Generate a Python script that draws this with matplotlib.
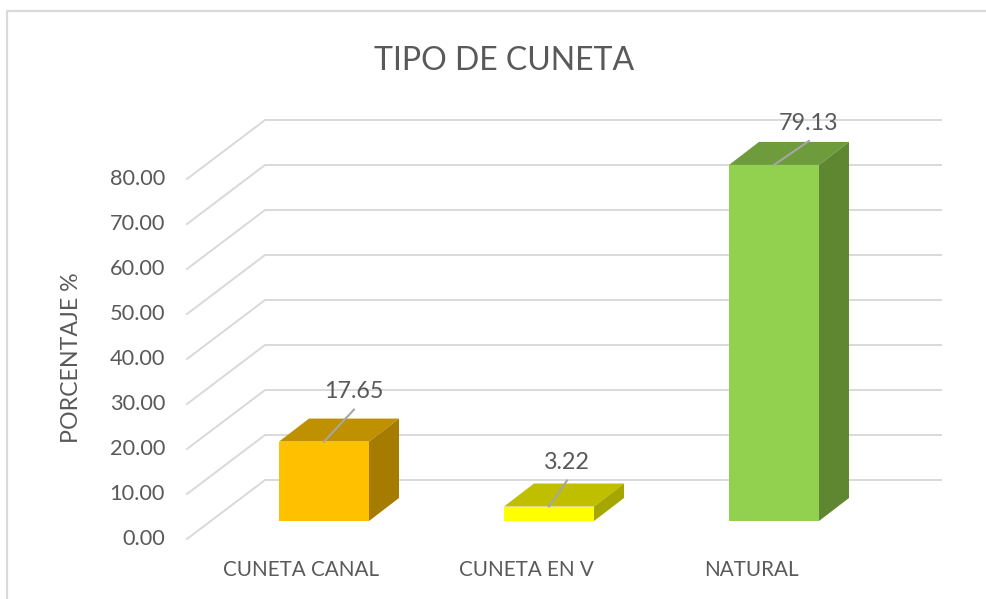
from matplotlib import pyplot as plt
from matplotlib.patches import Polygon

categories = ['CUNETA CANAL', 'CUNETA EN V', 'NATURAL']
values = [17.65, 3.22, 79.13]
grid_values = [0, 10, 20, 30, 40, 50, 60, 70, 80]

front_colors = ['#FFC000', '#FFFF00', '#92D050']
top_colors = ['#BF9000', '#BFBF00', '#6E9C3C']
side_colors = ['#A67C00', '#A6A600', '#5F8732']
text_color = '#595959'
grid_color = '#D9D9D9'

plt.rcParams['font.family'] = ['Lato', 'DejaVu Sans']

fig = plt.figure(figsize=(9.86, 5.99), dpi=100)
ax = fig.add_axes([0, 0, 1, 1])

# 225 px per category, 4.5 px per percent, pixel based so it lines up with the reference
px_x = 225
px_y = 4.5
ax.set_xlim(-324 / px_x, (986 - 324) / px_x)
ax.set_ylim((521 - 599) / px_y, 521 / px_y)
ax.axis('off')

# chart frame
ax.plot([-317 / px_x, -317 / px_x, 2.942], [-17.33, 113.3, 113.3], color='#D9D9D9', lw=1.6, solid_capstyle='butt')

# depth of the bars and of the walls
bar_w = 90 / px_x
bar_dx = 30 / px_x
bar_dy = 23 / px_y
wall_left = -59 / px_x
wall_front = -137 / px_x
wall_right = 617 / px_x
wall_back_y = 41 / px_y
wall_front_y = -18 / px_y

for v in grid_values:
    ax.plot([wall_front, wall_left, wall_right],
            [v + wall_front_y, v + wall_back_y, v + wall_back_y],
            color=grid_color, lw=1.4, solid_joinstyle='miter')
    ax.text(wall_front - 22 / px_x, v + wall_front_y, '%.2f' % v,
            ha='right', va='center', fontsize=15.7, color=text_color)

# leader line end relative to the bar top (px)
leader_dx = [30, 18, 35]
leader_dy = [32, 26, 24]
label_gap = [18, 18, 17]

for i, v in enumerate(values):
    x0 = i - bar_w / 2
    x1 = i + bar_w / 2
    ax.add_patch(Polygon([(x0, 0), (x1, 0), (x1, v), (x0, v)], fc=front_colors[i], ec='none', zorder=3))
    ax.add_patch(Polygon([(x0, v), (x1, v), (x1 + bar_dx, v + bar_dy), (x0 + bar_dx, v + bar_dy)],
                         fc=top_colors[i], ec='none', zorder=3))
    ax.add_patch(Polygon([(x1, 0), (x1 + bar_dx, bar_dy), (x1 + bar_dx, v + bar_dy), (x1, v)],
                         fc=side_colors[i], ec='none', zorder=3))
    lx = i + leader_dx[i] / px_x
    ly = v + leader_dy[i] / px_y
    ax.plot([i, lx], [v, ly], color='#A6A6A6', lw=1.5, zorder=4)
    ax.text(lx, ly + label_gap[i] / px_y, '%.2f' % v, ha='center', va='center',
            fontsize=16.8, color=text_color, zorder=5)
    ax.text(i - 23 / px_x, -49 / px_y, categories[i], ha='center', va='center',
            fontsize=14.9, color=text_color)

ax.text(180 / px_x, 460 / px_y, 'TIPO DE CUNETA', ha='center', va='center', fontsize=23, color=text_color)
ax.text(-253 / px_x, 163 / px_y, 'PORCENTAJE %', rotation=90, ha='center', va='center',
        fontsize=16.7, color=text_color)

plt.savefig('out.png', dpi=100)
